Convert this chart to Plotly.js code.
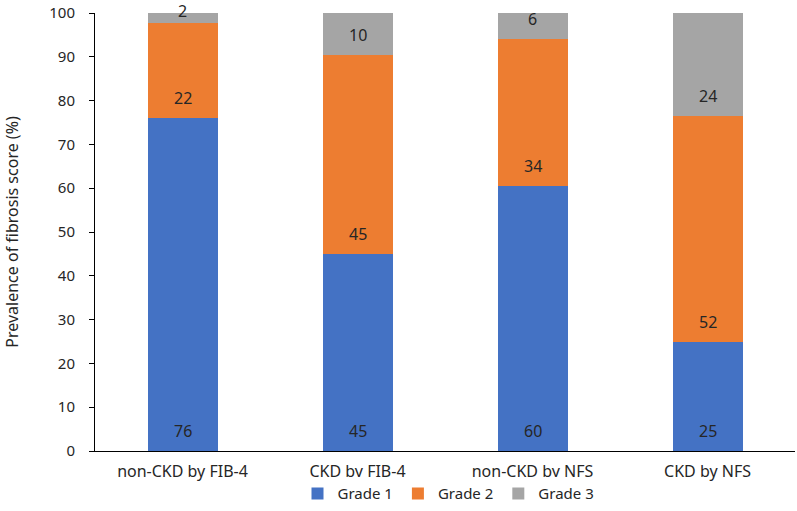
<!DOCTYPE html>
<html>
<head>
<meta charset="utf-8">
<script src="https://cdn.plot.ly/plotly-3.0.1.min.js"></script>
<style>
  html, body { margin: 0; padding: 0; background: #fff; }
  #chart { width: 797px; height: 511px; }
</style>
</head>
<body>
<div id="chart"></div>
<script>
const categories = ["non-CKD by FIB-4", "CKD by FIB-4", "non-CKD by NFS", "CKD by NFS"];
const seriesNames = ["Grade 1", "Grade 2", "Grade 3"];
const grade1 = [76.0, 44.9, 60.4, 24.8];
const grade2 = [21.8, 45.5, 33.7, 51.6];
const grade3 = [2.2, 9.6, 5.9, 23.6];
const labels1 = [76, 45, 60, 25];
const labels2 = [22, 45, 34, 52];
const labels3 = [2, 10, 6, 24];
const colors = ["#4472C4", "#ED7D31", "#A5A5A5"];

const FONT = "'Noto Sans', 'Open Sans', sans-serif";
const series = [grade1, grade2, grade3];
const seriesLabels = [labels1, labels2, labels3];

const traces = series.map((vals, i) => ({
  type: "bar",
  name: seriesNames[i],
  x: categories,
  y: vals,
  marker: { color: colors[i], line: { width: 0 } },
  hoverinfo: "skip"
}));

// data labels at "inside base" of each segment
const annotations = [];
categories.forEach((c, j) => {
  let base = 0;
  series.forEach((vals, i) => {
    const nearTop = base > 96;
    annotations.push({
      x: c,
      y: nearTop ? 100 : base,
      xref: "x", yref: "y",
      text: String(seriesLabels[i][j]),
      showarrow: false,
      yanchor: "middle",
      yshift: nearTop ? 2 : 20,
      font: { family: FONT, size: 16, color: "#262626" }
    });
    base += vals[j];
  });
});

const layout = {
  width: 797,
  height: 511,
  margin: { l: 95, r: 2, t: 13, b: 59 },
  paper_bgcolor: "#ffffff",
  plot_bgcolor: "#ffffff",
  barmode: "stack",
  bargap: 0.6,
  font: { family: FONT, size: 14, color: "#262626" },
  showlegend: true,
  legend: {
    orientation: "h",
    x: 0.505, xanchor: "center",
    y: -0.095, yanchor: "middle",
    font: { family: FONT, size: 15, color: "#262626" },
    traceorder: "normal",
    itemwidth: 30
  },
  xaxis: {
    type: "category",
    showline: true,
    linecolor: "#000000",
    linewidth: 1,
    ticks: "",
    showgrid: false,
    zeroline: false,
    ticklabelstandoff: 6,
    tickfont: { family: FONT, size: 16, color: "#262626" },
    fixedrange: true
  },
  yaxis: {
    range: [0, 100],
    dtick: 10,
    tick0: 0,
    showline: true,
    linecolor: "#000000",
    linewidth: 1,
    ticks: "outside",
    ticklen: 5,
    tickcolor: "#000000",
    showgrid: false,
    zeroline: false,
    ticklabelstandoff: 11,
    tickfont: { family: FONT, size: 15, color: "#262626" },
    title: { text: "Prevalence of fibrosis score (%)", font: { family: FONT, size: 16, color: "#262626" }, standoff: 26 },
    fixedrange: true
  },
  annotations: annotations
};

Plotly.newPlot("chart", traces, layout, { displayModeBar: false, staticPlot: true });
</script>
</body>
</html>
